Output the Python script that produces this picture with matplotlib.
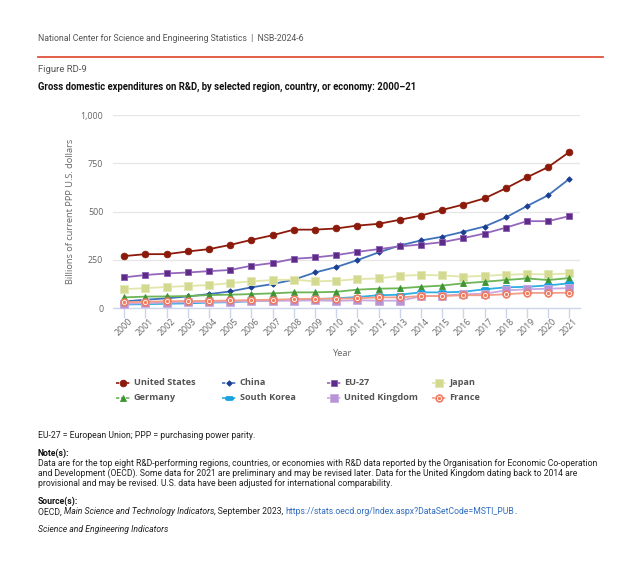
import numpy as np
import matplotlib
matplotlib.use("Agg")
import matplotlib.pyplot as plt
from matplotlib.lines import Line2D
from matplotlib.path import Path
from matplotlib.transforms import ScaledTranslation

# ---------------- data ----------------
years = list(range(2000, 2022))
united_states = [269, 279, 279, 293, 305, 327, 353, 377, 406, 406, 412, 427, 436, 457, 479, 508, 536, 568, 620, 677, 730, 808]
china = [34, 43, 50, 60, 72, 86, 107, 124, 147, 184, 212, 248, 288, 324, 350, 369, 395, 422, 469, 528, 584, 669]
eu27 = [159, 171, 179, 184, 191, 197, 219, 233, 255, 262, 274, 291, 305, 319, 329, 341, 362, 386, 416, 450, 450, 476]
japan = [98, 103, 109, 114, 119, 129, 138, 145, 147, 138, 141, 150, 153, 167, 171, 169, 162, 167, 172, 176, 174, 179]
germany = [55, 59, 60, 62, 67, 69, 72, 76, 81, 81, 84, 95, 100, 102, 110, 116, 128, 136, 145, 153, 145, 155]
south_korea = [18, 20, 22, 24, 28, 30, 35, 40, 43, 46, 50, 57, 66, 69, 81, 81, 84, 97, 107, 110, 117, 128]
united_kingdom = [22, 25, 28, 30, 31, 33, 35, 37, 38, 39, 37, 40, 38, 38, 60, 64, 71, 74, 91, 97, 100, 103]
france = [30, 32, 35, 36, 37, 39, 41, 43, 46, 48, 48, 50, 55, 55, 62, 62, 66, 66, 71, 78, 78, 79]

y_ticks = [0, 250, 500, 750, 1000]
y_tick_labels = ["0", "250", "500", "750", "1,000"]

W, H = 640, 576
def fx(px):
    return px / W
def fy(py):
    return 1 - py / H

# pill marker for South Korea
t = np.linspace(-np.pi / 2, np.pi / 2, 12)
right = np.column_stack([0.6 + 0.5 * np.cos(t), 0.5 * np.sin(t)])
left = np.column_stack([-0.6 - 0.5 * np.cos(t), -0.5 * np.sin(t)])
pill = Path(np.vstack([right, left, right[:1]]), closed=True)

series = [
    dict(name="United States", y=united_states, lc="#8c1a0b", mk="o", ms=4.8, mfc="#8c1a0b", mec="#8c1a0b"),
    dict(name="China", y=china, lc="#3f72bb", mk="D", ms=2.8, mfc="#1c3f94", mec="#1c3f94"),
    dict(name="EU-27", y=eu27, lc="#9467bd", mk="s", ms=5.0, mfc="#5e2b87", mec="#8a5db5"),
    dict(name="Japan", y=japan, lc="#e1e6a8", mk="s", ms=6.0, mfc="#d3d98f", mec="#e3e7b5"),
    dict(name="Germany", y=germany, lc="#6db556", mk="^", ms=4.6, mfc="#3e9434", mec="#3e9434"),
    dict(name="South Korea", y=south_korea, lc="#2eaee3", mk=pill, ms=6.0, mfc="#19a3de", mec="#19a3de"),
    dict(name="United Kingdom", y=united_kingdom, lc="#c7a8e0", mk="s", ms=5.2, mfc="#b893d6", mec="#c9ade2"),
    dict(name="France", y=france, lc="#f59c86", mk="o", ms=5.4, mfc="#f07b5f", mec="#f07b5f"),
]

fig = plt.figure(figsize=(6.4, 5.76), dpi=100)
fig.patch.set_facecolor("white")

TF = "Roboto"
CF = "Open Sans"

# header
fig.text(fx(38), fy(38.5), "National Center for Science and Engineering Statistics  |  NSB-2024-6",
         family=TF, fontsize=6.3, color="#555555", va="center", ha="left")
fig.add_artist(Line2D([fx(37.5), fx(602.5)], [fy(56.7), fy(56.7)], transform=fig.transFigure,
                      color="#e0533b", lw=1.3))
fig.text(fx(38), fy(69.5), "Figure RD-9", family=TF, fontsize=6.8, color="#555555", va="center", ha="left")
fig.text(fx(38), fy(86.8), "Gross domestic expenditures on R&D, by selected region, country, or economy: 2000\u201321",
         family=TF, fontsize=6.85, weight="bold", color="#111111", va="center", ha="left")

# axes
ax = fig.add_axes([fx(113), fy(308), (580 - 113) / W, (308 - 115) / H])
ax.set_xlim(1999.467, 2021.505)
ax.set_ylim(0, 1000)
for s in ["left", "right", "top"]:
    ax.spines[s].set_visible(False)
ax.spines["bottom"].set_color("#ccd6eb")
ax.spines["bottom"].set_linewidth(1.0)
ax.set_yticks(y_ticks)
ax.set_yticklabels(y_tick_labels, family=CF, fontsize=6.4, color="#666666")
ax.tick_params(axis="y", length=0, pad=7)
for v in y_ticks[1:]:
    ax.axhline(v, color="#e6e6e6", lw=0.9, zorder=0)
ax.set_xticks(years)
ax.set_xticklabels([])
ax.tick_params(axis="x", length=7, width=1.0, color="#ccd6eb", direction="out")
off = ax.get_xaxis_transform() + ScaledTranslation(4 / 100, -9 / 100, fig.dpi_scale_trans)
for yr in years:
    ax.text(yr, 0, str(yr), transform=off, rotation=45, rotation_mode="anchor",
            ha="right", va="top", family=CF, fontsize=6.3, color="#666666")
ax.set_ylabel("Billions of current PPP U.S. dollars", family=CF, fontsize=6.7, color="#666666", labelpad=4)
fig.text(fx(343), fy(353), "Year", family=CF, fontsize=6.7, color="#666666", ha="center", va="center")

for i, s in enumerate(series):
    ax.plot(years, s["y"], color=s["lc"], lw=1.3, zorder=2 + i, clip_on=False)
    ax.plot(years, s["y"], ls="none", marker=s["mk"], ms=s["ms"], mfc=s["mfc"], mec=s["mec"],
            mew=0.6, zorder=2 + i, clip_on=False)
    if s["name"] == "France":
        ax.plot(years, s["y"], ls="none", marker="o", ms=3.0, mfc="none", mec="white", mew=0.6,
                zorder=2 + i, clip_on=False)

# legend (manual)
col_x = [123, 229, 334, 439]
row_y = [382.5, 398]
for i, s in enumerate(series):
    r, c = divmod(i, 4)
    cx, cy = col_x[c], row_y[r]
    fig.add_artist(Line2D([fx(cx - 7), fx(cx + 7)], [fy(cy), fy(cy)], transform=fig.transFigure,
                          color=s["lc"], lw=1.2, ls=(0, (2, 1))))
    fig.add_artist(Line2D([fx(cx)], [fy(cy)], transform=fig.transFigure, ls="none", marker=s["mk"],
                          ms=s["ms"], mfc=s["mfc"], mec=s["mec"], mew=0.6))
    if s["name"] == "France":
        fig.add_artist(Line2D([fx(cx)], [fy(cy)], transform=fig.transFigure, ls="none", marker="o",
                              ms=3.0, mfc="none", mec="white", mew=0.6))
    fig.text(fx(cx + 10.5), fy(cy), s["name"], family=CF, fontsize=6.6, weight="bold",
             color="#555555", ha="left", va="center")

# notes
NS = 6.25
fig.text(fx(38), fy(435), "EU-27 = European Union; PPP = purchasing power parity.",
         family=TF, fontsize=NS, color="#222222", va="center")
fig.text(fx(38), fy(453.3), "Note(s):", family=TF, fontsize=NS, weight="bold", color="#111111", va="center")
note_lines = [
    "Data are for the top eight R&D-performing regions, countries, or economies with R&D data reported by the Organisation for Economic Co-operation",
    "and Development (OECD). Some data for 2021 are preliminary and may be revised later. Data for the United Kingdom dating back to 2014 are",
    "provisional and may be revised. U.S. data have been adjusted for international comparability.",
]
for k, line in enumerate(note_lines):
    fig.text(fx(38), fy(463.3 + 10 * k), line, family=TF, fontsize=NS, color="#222222", va="center")
fig.text(fx(38), fy(501.7), "Source(s):", family=TF, fontsize=NS, weight="bold", color="#111111", va="center")

pieces = [
    ("OECD, ", "normal", "#222222"),
    ("Main Science and Technology Indicators", "italic", "#222222"),
    (", September 2023, ", "normal", "#222222"),
    ("https://stats.oecd.org/Index.aspx?DataSetCode=MSTI_PUB", "normal", "#2f6cc0"),
    (".", "normal", "#222222"),
]
prev = fig.text(fx(38), fy(511.7), pieces[0][0], family=TF, fontsize=NS, style=pieces[0][1],
                color=pieces[0][2], va="center")
for txt, st, colr in pieces[1:]:
    prev = ax.annotate(txt, xy=(1, 0.5), xycoords=prev, va="center", ha="left",
                       family=TF, fontsize=NS, style=st, color=colr, annotation_clip=False)
fig.text(fx(38), fy(530), "Science and Engineering Indicators", family=TF, fontsize=NS, style="italic",
         color="#222222", va="center")

fig.savefig("out.png", dpi=100, facecolor="white")
